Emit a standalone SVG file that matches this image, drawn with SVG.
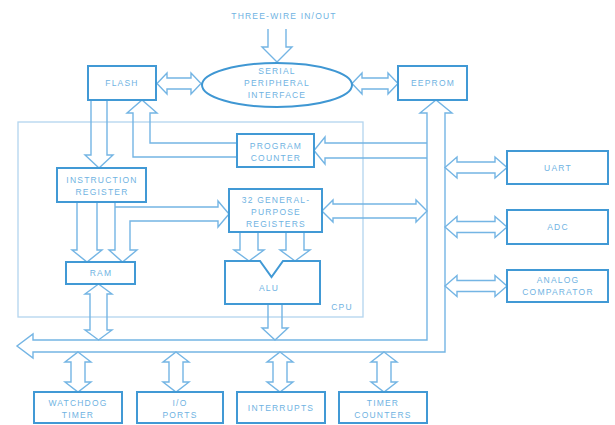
<svg xmlns="http://www.w3.org/2000/svg" width="615" height="425" viewBox="0 0 615 425">
<style>
.box{fill:none;stroke:#4199d5;stroke-width:2}
.ln{fill:none;stroke:#74b5e4;stroke-width:1.4;stroke-linejoin:miter}
.thin{fill:none;stroke:#b3d5ee;stroke-width:1.3}
.t{font-family:"Liberation Sans",Arial,sans-serif;font-size:8.5px;fill:#6fb3e2;text-anchor:middle;letter-spacing:1.2px}
</style>
<rect width="615" height="425" fill="#ffffff"/>

<g id="cpu-frame">
<rect class="thin" x="18" y="122" width="345" height="195"/>
<text class="t" x="342" y="310">CPU</text>
</g>

<g id="connectors">
<!-- title input arrow -->
<path class="ln" d="M268,29 L268,47 L262,47 L277,62 L292,47 L286,47 L286,29"/>
<!-- FLASH <-> SPI -->
<path class="ln" d="M157,83.5 L167,73 L167,78 L191,78 L191,73 L201,83.5 L191,94 L191,89 L167,89 L167,94 Z"/>
<!-- SPI <-> EEPROM -->
<path class="ln" d="M352,83.5 L362,73 L362,78 L388,78 L388,73 L398,83.5 L388,94 L388,89 L362,89 L362,94 Z"/>
<!-- FLASH -> IR -->
<path class="ln" d="M91,100 L91,155 L85,155 L99,168 L113,155 L107,155 L107,100"/>
<!-- PC -> FLASH -->
<path class="ln" d="M237,157 L133,157 L133,113 L127,113 L142,100 L157,113 L150,113 L150,143 L237,143"/>
<!-- bus -> PC -->
<path class="ln" d="M427,143 L325,143 L325,137 L314,150.5 L325,164 L325,158 L427,158"/>
<!-- IR -> RAM (1) -->
<path class="ln" d="M77,202 L77,250 L72,250 L87,262 L102,250 L97,250 L97,202"/>
<!-- IR -> RAM (2) and -> GPR -->
<path class="ln" d="M115,202 L115,250 L109,250 L122.5,262 L137,250 L130,250 L130,221 L218,221 L218,227 L229,214 L218,201 L218,207 L115,207"/>
<!-- RAM <-> bus -->
<path class="ln" d="M98.5,284 L112,294 L107,294 L107,330 L112,330 L98.5,340 L85,330 L90,330 L90,294 L85,294 Z"/>
<!-- GPR <-> bus -->
<path class="ln" d="M322,211 L333,200 L333,204 L416,204 L416,200 L427,211 L416,222 L416,218 L333,218 L333,222 Z"/>
<!-- GPR -> ALU -->
<path class="ln" d="M240,232 L240,250 L234,250 L249,261 L264,250 L258,250 L258,232"/>
<path class="ln" d="M286,232 L286,250 L280,250 L295,261 L310,250 L304,250 L304,232"/>
<!-- ALU -> bus -->
<path class="ln" d="M268,304 L268,328 L262,328 L275,340 L288,328 L282,328 L282,304"/>
<!-- main bus -->
<path class="ln" d="M420,113 L436,100 L452,113 L445,113 L445,352 L33,352 L33,358 L17,346 L33,334 L33,340 L427,340 L427,113 Z"/>
<!-- bus <-> UART / ADC / AC -->
<path class="ln" d="M445,167.5 L457,157 L457,162 L495,162 L495,157 L507,167.5 L495,178 L495,173 L457,173 L457,178 Z"/>
<path class="ln" d="M445,227 L457,216.5 L457,221.5 L495,221.5 L495,216.5 L507,227 L495,237.5 L495,232.5 L457,232.5 L457,237.5 Z"/>
<path class="ln" d="M445,286 L457,275.5 L457,280.5 L495,280.5 L495,275.5 L507,286 L495,296.5 L495,291.5 L457,291.5 L457,296.5 Z"/>
<!-- bus <-> bottom peripherals -->
<path class="ln" d="M78,352 L91,362 L85,362 L85,382 L91,382 L78,392 L65,382 L71,382 L71,362 L65,362 Z"/>
<path class="ln" d="M176,352 L189,362 L183,362 L183,382 L189,382 L176,392 L163,382 L169,382 L169,362 L163,362 Z"/>
<path class="ln" d="M280,352 L293,362 L287,362 L287,382 L293,382 L280,392 L267,382 L273,382 L273,362 L267,362 Z"/>
<path class="ln" d="M384,352 L397,362 L391,362 L391,382 L397,382 L384,392 L371,382 L377,382 L377,362 L371,362 Z"/>
</g>

<g id="title"><text class="t" x="284" y="19" style="font-size:8.5px">THREE-WIRE IN/OUT</text></g>

<g id="spi">
<ellipse cx="277" cy="85" rx="75" ry="22" fill="none" stroke="#3f97d3" stroke-width="2"/>
<text class="t" x="277" y="74">SERIAL</text>
<text class="t" x="277" y="86">PERIPHERAL</text>
<text class="t" x="277" y="98">INTERFACE</text>
</g>

<g id="flash"><rect class="box" x="88" y="66" width="68" height="34"/><text class="t" x="122" y="86">FLASH</text></g>
<g id="eeprom"><rect class="box" x="398" y="66" width="69" height="34"/><text class="t" x="433" y="86">EEPROM</text></g>

<g id="pc"><rect class="box" x="237" y="134" width="77" height="33"/>
<text class="t" x="276" y="149">PROGRAM</text><text class="t" x="276" y="161">COUNTER</text></g>

<g id="ir"><rect class="box" x="57" y="168" width="89" height="34"/>
<text class="t" x="102" y="183">INSTRUCTION</text><text class="t" x="102" y="195">REGISTER</text></g>

<g id="ram"><rect class="box" x="66" y="262" width="69" height="22"/><text class="t" x="101" y="276">RAM</text></g>

<g id="gpr"><rect class="box" x="229" y="189" width="93" height="43"/>
<text class="t" x="276" y="203">32 GENERAL-</text><text class="t" x="276" y="215">PURPOSE</text><text class="t" x="276" y="227">REGISTERS</text></g>

<g id="alu"><path class="box" d="M225,261 L260,261 L271.5,277 L283,261 L320,261 L320,304 L225,304 Z"/>
<text class="t" x="269" y="291">ALU</text></g>

<g id="uart"><rect class="box" x="507" y="151" width="101" height="33"/><text class="t" x="558" y="171">UART</text></g>
<g id="adc"><rect class="box" x="507" y="210" width="101" height="34"/><text class="t" x="558" y="230">ADC</text></g>
<g id="ac"><rect class="box" x="507" y="270" width="101" height="32"/>
<text class="t" x="558" y="283">ANALOG</text><text class="t" x="558" y="295">COMPARATOR</text></g>

<g id="watchdog"><rect class="box" x="34" y="392" width="88" height="31"/>
<text class="t" x="78" y="406">WATCHDOG</text><text class="t" x="78" y="418">TIMER</text></g>
<g id="io"><rect class="box" x="137" y="392" width="86" height="31"/>
<text class="t" x="180" y="406">I/O</text><text class="t" x="180" y="418">PORTS</text></g>
<g id="interrupts"><rect class="box" x="237" y="392" width="88" height="31"/>
<text class="t" x="281" y="411">INTERRUPTS</text></g>
<g id="timer"><rect class="box" x="339" y="392" width="88" height="31"/>
<text class="t" x="383" y="406">TIMER</text><text class="t" x="383" y="418">COUNTERS</text></g>
</svg>
